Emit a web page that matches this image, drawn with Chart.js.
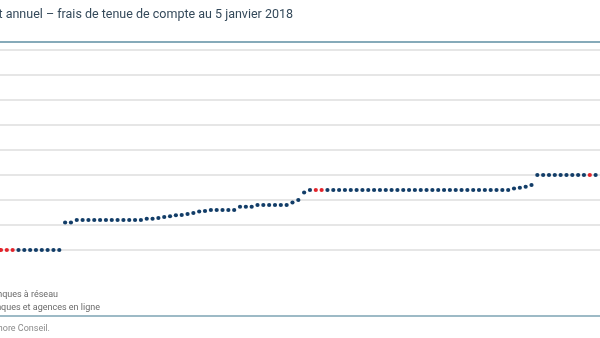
<!DOCTYPE html>
<html>
<head>
<meta charset="utf-8">
<script src="https://cdn.jsdelivr.net/npm/chart.js@4"></script>
<style>
  html, body { margin: 0; padding: 0; background: #fff; }
  body { width: 600px; height: 338px; position: relative; overflow: hidden; font-family: "Roboto", "Liberation Sans", sans-serif; }
  #wrap { position: absolute; left: 0; top: 0; width: 600px; height: 338px; }
  .txt { position: absolute; white-space: nowrap; text-align: right; }
  #title { right: 307px; top: 6px; font-size: 12.5px; color: #34495a; }
  .rule { position: absolute; left: 0; width: 600px; height: 2px; background: #86aab9; }
  .leg { font-size: 9px; color: #6a6a6a; }
  #src { right: 550px; top: 323px; font-size: 9px; color: #8a8a8a; }
</style>
</head>
<body>
<div id="wrap"><canvas id="dotChart" width="600" height="338"></canvas></div>
<div class="txt" id="title">Coût annuel – frais de tenue de compte au 5 janvier 2018</div>
<div class="rule" style="top:41px"></div>
<div class="txt leg" style="right:542px; top:289px">Banques à réseau</div>
<div class="txt leg" style="right:500px; top:302px">Banques et agences en ligne</div>
<div class="rule" style="top:315px; height:1.5px; background:#9dbac6"></div>
<div class="txt" id="src">Source : Sémaphore Conseil.</div>

<script>
// annual account fee (EUR), one value per bank, sorted
const fees = [
  0, 0, 0, 0, 0, 0, 0, 0, 0, 0, 0,
  11, 11,
  12, 12, 12, 12, 12, 12, 12, 12, 12, 12, 12, 12,
  12.5, 12.5, 12.8, 13.2, 13.5, 13.9, 14, 14.4, 14.8, 15.4, 15.6,
  16, 16, 16, 16, 16,
  17.3, 17.3, 17.3,
  18, 18, 18, 18, 18, 18,
  19, 20, 23,
  24, 24, 24, 24, 24, 24, 24, 24, 24, 24, 24, 24, 24, 24, 24, 24, 24, 24,
  24, 24, 24, 24, 24, 24, 24, 24, 24, 24, 24, 24, 24, 24, 24, 24, 24,
  24.6, 24.9, 25.3, 26,
  30, 30, 30, 30, 30, 30, 30, 30, 30, 30, 30
];

// banks highlighted in red (position in the sorted list)
const highlighted = [0, 1, 2, 54, 55, 101];

const yTicks = [0, 10, 20, 30, 40, 50, 60, 70, 80];

const navy = "#123d68";
const red = "#e3242b";

let points = fees.map((v, i) => ({ x: i, y: v }));

const ctx = document.getElementById("dotChart").getContext("2d");
new Chart(ctx, {
  type: "scatter",
  data: {
    datasets: [{
      label: "Banques",
      data: points,
      pointRadius: 2.1,
      pointBorderWidth: 0,
      pointBackgroundColor: points.map((p, i) => highlighted.includes(i) ? red : navy),
      showLine: false,
      clip: false
    }]
  },
  options: {
    responsive: false,
    animation: false,
    layout: { autoPadding: false, padding: { top: 50, bottom: 88, left: 0, right: 0 } },
    plugins: { legend: { display: false }, tooltip: { enabled: false } },
    scales: {
      x: {
        type: "linear",
        min: -0.17,
        max: 102.75,
        display: false
      },
      y: {
        min: yTicks[0],
        max: yTicks[yTicks.length - 1],
        afterBuildTicks: (axis) => { axis.ticks = yTicks.map(v => ({ value: v })); },
        afterFit: (axis) => { axis.width = 0; },
        ticks: { display: false, padding: 0 },
        border: { display: false },
        grid: { color: "#e6e6e6", lineWidth: 2, drawTicks: false, tickLength: 0 }
      }
    }
  }
});
</script>
</body>
</html>
